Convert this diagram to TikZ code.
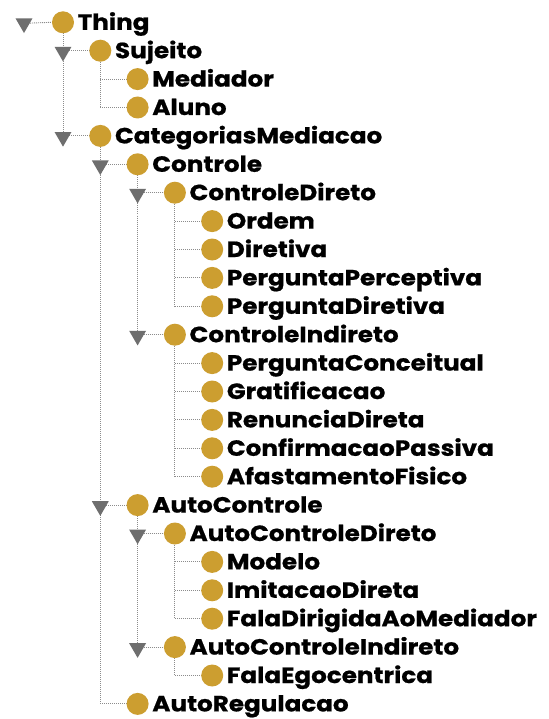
\documentclass[tikz,border=0pt]{standalone}
\usepackage{fontspec}
\setmainfont{Poppins}[BoldFeatures={FakeStretch=1.12,FakeBold=0.8}]
\usetikzlibrary{shapes.geometric}
\pgfdeclarelayer{bgfill}
\pgfdeclarelayer{bg}
\pgfsetlayers{bgfill,bg,main}
\definecolor{gold}{RGB}{204,158,48}
\definecolor{trigray}{RGB}{110,110,110}
\definecolor{dotgray}{RGB}{140,140,140}
\tikzset{
  ball/.style={circle,fill=gold,draw=none,minimum size=22pt,inner sep=0pt},
  lbl/.style={anchor=base west,inner sep=0pt,font=\fontsize{22}{22}\selectfont\bfseries,text=black},
  tri/.style={regular polygon,regular polygon sides=3,shape border rotate=180,fill=trigray,draw=none,minimum size=19.5pt,inner sep=0pt},
  tline/.style={dotgray,line width=0.9pt,dash pattern=on 1pt off 1pt}
}
\newcommand\cls[4]{% name, level, row, text
  \node[ball] (c-#1) at ({63+37.3*#2},{22.3+28.4*#3}) {};
  \node[lbl] (t-#1) at ([xshift=14.5pt,yshift=-7.5pt]c-#1.center) {#4};
}
\newcommand\treev[2]{\begin{pgfonlayer}{bg}\draw[tline] (c-#1.south) -- (c-#1.center |- c-#2.center);\end{pgfonlayer}}
\newcommand\treeh[2]{\begin{pgfonlayer}{bg}\draw[tline] (c-#1.center |- c-#2.center) -- (c-#2.west);\end{pgfonlayer}}
\newcommand\expd[2]{\node[tri] (tr-#2) at ([yshift=-1pt]c-#1.center |- c-#2.center) {};}
\begin{document}
\begin{tikzpicture}[x=1pt,y=-1pt]
\begin{pgfonlayer}{bgfill}
\fill[white] (0,0) rectangle (548,719);
\end{pgfonlayer}
\useasboundingbox (0,0) rectangle (548,719);
\cls{Thing}{0}{0}{Thing}
\cls{Sujeito}{1}{1}{Sujeito}
\cls{Mediador}{2}{2}{Mediador}
\cls{Aluno}{2}{3}{Aluno}
\cls{CategoriasMediacao}{1}{4}{CategoriasMediacao}
\cls{Controle}{2}{5}{Controle}
\cls{ControleDireto}{3}{6}{ControleDireto}
\cls{Ordem}{4}{7}{Ordem}
\cls{Diretiva}{4}{8}{Diretiva}
\cls{PerguntaPerceptiva}{4}{9}{PerguntaPerceptiva}
\cls{PerguntaDiretiva}{4}{10}{PerguntaDiretiva}
\cls{ControleIndireto}{3}{11}{ControleIndireto}
\cls{PerguntaConceitual}{4}{12}{PerguntaConceitual}
\cls{Gratificacao}{4}{13}{Gratificacao}
\cls{RenunciaDireta}{4}{14}{RenunciaDireta}
\cls{ConfirmacaoPassiva}{4}{15}{ConfirmacaoPassiva}
\cls{AfastamentoFisico}{4}{16}{AfastamentoFisico}
\cls{AutoControle}{2}{17}{AutoControle}
\cls{AutoControleDireto}{3}{18}{AutoControleDireto}
\cls{Modelo}{4}{19}{Modelo}
\cls{ImitacaoDireta}{4}{20}{ImitacaoDireta}
\cls{FalaDirigidaAoMediador}{4}{21}{FalaDirigidaAoMediador}
\cls{AutoControleIndireto}{3}{22}{AutoControleIndireto}
\cls{FalaEgocentrica}{4}{23}{FalaEgocentrica}
\cls{AutoRegulacao}{2}{24}{AutoRegulacao}
% root toggle
\node[tri] (tr-Thing) at ([xshift=-39pt,yshift=-1pt]c-Thing.center) {};
\begin{pgfonlayer}{bg}\draw[tline] (tr-Thing.center) -- (c-Thing.west);\end{pgfonlayer}
% Thing
\treev{Thing}{CategoriasMediacao}
\treeh{Thing}{Sujeito}\expd{Thing}{Sujeito}
\treeh{Thing}{CategoriasMediacao}\expd{Thing}{CategoriasMediacao}
% Sujeito
\treev{Sujeito}{Aluno}
\treeh{Sujeito}{Mediador}
\treeh{Sujeito}{Aluno}
% CategoriasMediacao
\treev{CategoriasMediacao}{AutoRegulacao}
\treeh{CategoriasMediacao}{Controle}\expd{CategoriasMediacao}{Controle}
\treeh{CategoriasMediacao}{AutoControle}\expd{CategoriasMediacao}{AutoControle}
\treeh{CategoriasMediacao}{AutoRegulacao}
% Controle
\treev{Controle}{ControleIndireto}
\treeh{Controle}{ControleDireto}\expd{Controle}{ControleDireto}
\treeh{Controle}{ControleIndireto}\expd{Controle}{ControleIndireto}
% ControleDireto
\treev{ControleDireto}{PerguntaDiretiva}
\treeh{ControleDireto}{Ordem}
\treeh{ControleDireto}{Diretiva}
\treeh{ControleDireto}{PerguntaPerceptiva}
\treeh{ControleDireto}{PerguntaDiretiva}
% ControleIndireto
\treev{ControleIndireto}{AfastamentoFisico}
\treeh{ControleIndireto}{PerguntaConceitual}
\treeh{ControleIndireto}{Gratificacao}
\treeh{ControleIndireto}{RenunciaDireta}
\treeh{ControleIndireto}{ConfirmacaoPassiva}
\treeh{ControleIndireto}{AfastamentoFisico}
% AutoControle
\treev{AutoControle}{AutoControleIndireto}
\treeh{AutoControle}{AutoControleDireto}\expd{AutoControle}{AutoControleDireto}
\treeh{AutoControle}{AutoControleIndireto}\expd{AutoControle}{AutoControleIndireto}
% AutoControleDireto
\treev{AutoControleDireto}{FalaDirigidaAoMediador}
\treeh{AutoControleDireto}{Modelo}
\treeh{AutoControleDireto}{ImitacaoDireta}
\treeh{AutoControleDireto}{FalaDirigidaAoMediador}
% AutoControleIndireto
\treev{AutoControleIndireto}{FalaEgocentrica}
\treeh{AutoControleIndireto}{FalaEgocentrica}
\end{tikzpicture}
\end{document}
